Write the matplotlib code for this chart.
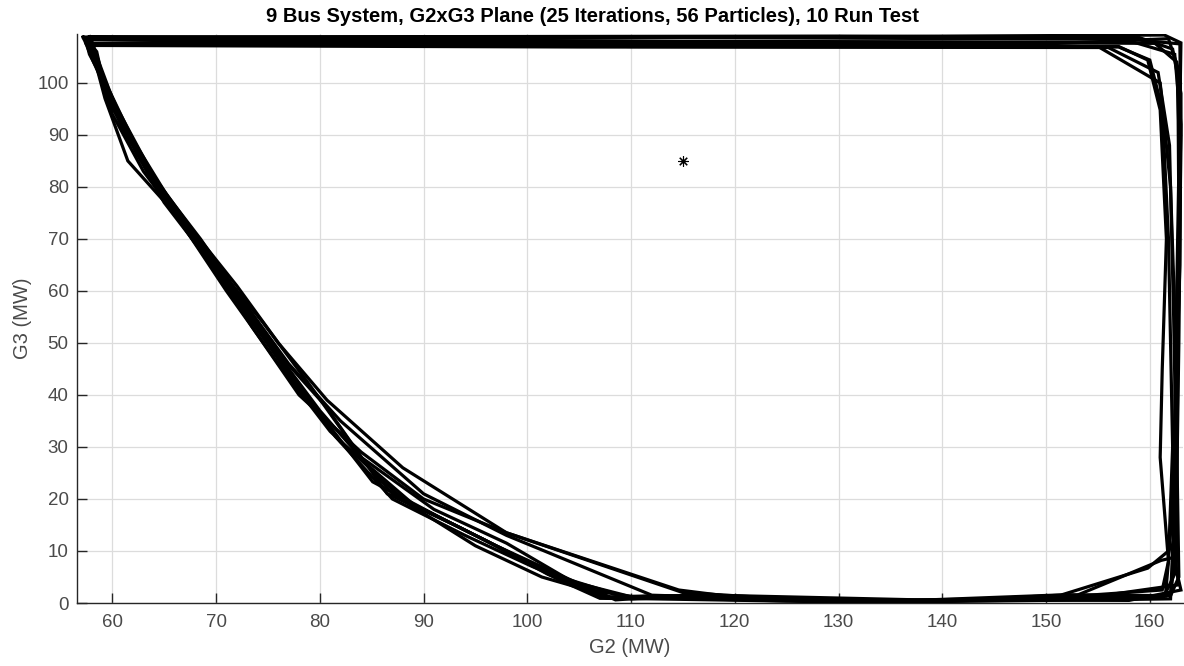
import matplotlib
matplotlib.use("Agg")
import matplotlib.pyplot as plt

# Boundary traces of the G2 x G3 search space, one closed path per run (MW)
run01_g2 = [57.4, 90, 158, 162.9, 163.0, 162.8, 162.5, 162.0, 150, 130, 112, 107.5, 102, 96, 88, 81, 76, 71, 67, 62.5, 59.8, 58.0, 57.4]
run01_g3 = [108.7, 108.9, 108.4, 107.5, 90, 50, 10, 1.5, 0.9, 0.4, 1.3, 1.0, 5.5, 12, 20, 33, 46, 60, 72, 86, 98, 105, 108.7]

run02_g2 = [57.6, 110, 157, 160, 161.2, 161.8, 162.2, 161.8, 161.2, 152, 140, 118, 110, 104.5, 99, 93, 86.5, 80.5, 76, 71, 66, 61.5, 59.3, 58.3, 57.6]
run02_g3 = [108.4, 107.0, 106.9, 104.4, 95, 70, 30, 8, 2.5, 1.2, 0.5, 1.5, 1.2, 4, 9, 15, 21, 38, 48, 62, 75, 85, 97, 104.5, 108.4]

run03_g2 = [57.8, 100, 161.4, 163, 162.9, 162.6, 162.4, 162.0, 155, 140, 125, 115, 98, 88, 80.7, 76, 72, 68, 64, 60.5, 58.5, 57.8]
run03_g3 = [108.9, 108.6, 109.2, 107.7, 95, 60, 20, 0.8, 0.6, 0.3, 0.8, 2.0, 13.5, 26, 39, 50, 61, 71, 82, 95, 103, 108.9]

run04_g2 = [57.5, 120, 155, 161, 162, 162.5, 162.4, 161.8, 159.8, 151.4, 140, 128, 113, 108, 101.4, 95, 87, 80, 75.5, 71.5, 67.5, 63, 60, 58.6, 57.5]
run04_g3 = [107.6, 107.4, 107.0, 100, 80, 50, 20, 10, 6.7, 1.5, 0.4, 0.5, 1.4, 1.2, 5, 11, 21, 37, 49, 61, 71, 83, 94, 104, 107.6]

run05_g2 = [57.3, 80, 140, 160.5, 162.6, 162.9, 162.7, 162.5, 161.3, 148, 130, 112, 107, 103, 98, 92, 85.1, 79, 74.5, 70, 65, 62.2, 59.2, 58.0, 57.3]
run05_g3 = [108.5, 108.0, 107.8, 107.6, 104, 85, 45, 6, 1.0, 0.7, 0.2, 0.8, 0.9, 4.5, 10, 16, 23.3, 39, 52, 64, 77, 87, 99, 106, 108.5]

run06_g2 = [57.7, 110, 157, 159.8, 161, 161.6, 161.2, 161.0, 161.8, 161.5, 150, 135, 117, 110, 104, 98, 91, 84, 79, 74.5, 70, 66, 62, 59.6, 58.2, 57.7]
run06_g3 = [108.3, 107.2, 107.0, 104.4, 94.8, 70, 45, 28, 8, 1.3, 1.0, 0.3, 1.2, 0.8, 4.5, 11.5, 18, 28, 42, 54, 65, 76, 89, 99, 105.5, 108.3]

run07_g2 = [57.9, 95, 150, 161.8, 162.7, 162.8, 162.4, 162.3, 162.8, 155, 138, 120, 112, 98, 90, 82, 77, 73, 68.5, 63.5, 60.2, 58.8, 57.9]
run07_g3 = [108.8, 107.4, 107.5, 108.5, 103, 75, 35, 10, 3.5, 1.3, 0.2, 1.0, 1.5, 13, 21, 35, 46, 57, 70, 83, 96, 103.5, 108.8]

run08_g2 = [57.2, 130, 159, 162.2, 163.0, 162.9, 162.3, 161.9, 163.0, 158, 145, 125, 110.5, 106, 100.5, 94, 87, 81.5, 77, 72.5, 68, 63.5, 60, 58.2, 57.2]
run08_g3 = [108.8, 109.0, 108.7, 106.5, 98, 65, 25, 12, 2.5, 0.5, 0.6, 0.4, 1.1, 2.5, 7, 13, 20, 32, 44, 57, 70, 83, 96, 104, 108.8]

run09_g2 = [58.0, 105, 156, 160.8, 161.9, 162.3, 162.6, 162.4, 161.1, 153.0, 146, 128, 116, 108.5, 103, 97, 89, 82, 77.5, 72, 67, 62, 59.5, 58.5, 58.0]
run09_g3 = [107.2, 106.9, 106.8, 102, 88, 55, 22, 8.8, 8.2, 1.5, 0.5, 0.2, 1.6, 0.6, 5.5, 11, 19, 31, 43, 58, 72, 88, 97, 106.0, 107.2]

run10_g2 = [57.4, 115, 158.5, 162.4, 163.0, 162.7, 162.6, 162.8, 162.0, 152, 136, 121, 114.6, 98, 90, 84, 78, 73.5, 69, 64.5, 61, 59, 57.8, 57.4]
run10_g3 = [108.6, 108.0, 107.8, 105.5, 92, 60, 30, 5, 1.4, 1.6, 0.4, 0.9, 2.5, 13.5, 20, 29, 40, 53, 67, 80, 91, 101, 105.5, 108.6]

# Best operating point found
best_g2 = [115]
best_g3 = [85]

x_ticks = [60, 70, 80, 90, 100, 110, 120, 130, 140, 150, 160]
y_ticks = [0, 10, 20, 30, 40, 50, 60, 70, 80, 90, 100]

runs = [
    (run01_g2, run01_g3), (run02_g2, run02_g3), (run03_g2, run03_g3),
    (run04_g2, run04_g3), (run05_g2, run05_g3), (run06_g2, run06_g3),
    (run07_g2, run07_g3), (run08_g2, run08_g3), (run09_g2, run09_g3),
    (run10_g2, run10_g3),
]

plt.rcParams["font.family"] = ["Liberation Sans", "DejaVu Sans"]
axis_color = "#4a4a4a"

fig = plt.figure(figsize=(11.84, 6.66), dpi=100)
ax = fig.add_axes([77 / 1184, 63 / 666, (1183 - 77) / 1184, (603 - 34) / 666])

for g2, g3 in runs:
    ax.plot(g2, g3, color="black", lw=2.3, solid_joinstyle="miter", zorder=3)

ax.plot(best_g2, best_g3, linestyle="none", marker=(8, 2, 0), markersize=7.5,
        markeredgewidth=0.8, color="black", zorder=4)

ax.set_xlim(56.6, 163.2)
ax.set_ylim(0, 109.4)
ax.set_xticks(x_ticks)
ax.set_yticks(y_ticks)

ax.grid(True, color="#dcdcdc", lw=0.9, zorder=0)
ax.set_axisbelow(True)
for side in ("top", "right"):
    ax.spines[side].set_visible(False)
for side in ("left", "bottom"):
    ax.spines[side].set_color("#262626")
    ax.spines[side].set_linewidth(1.0)

ax.tick_params(direction="in", length=7.5, width=1.0, colors="#262626",
               labelcolor=axis_color, labelsize=13.5)
ax.tick_params(axis="x", pad=8)
ax.tick_params(axis="y", pad=6)

ax.set_xlabel("G2 (MW)", fontsize=14.5, color=axis_color, labelpad=5)
ax.set_ylabel("G3 (MW)", fontsize=14.5, color=axis_color, labelpad=4)

fig.text(0.5, 1 - 17 / 666, "9 Bus System, G2xG3 Plane (25 Iterations, 56 Particles), 10 Run Test",
         ha="center", va="center", fontsize=14.5, fontweight="bold", color="black")

fig.savefig("out.png", dpi=100)
